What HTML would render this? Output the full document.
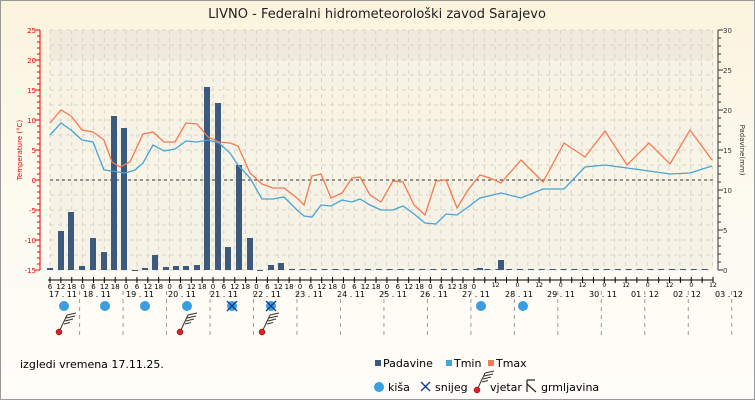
<!DOCTYPE html>
<html><head><meta charset="utf-8"><style>
body{margin:0;background:#fff}
svg{display:block;font-family:"DejaVu Sans","Liberation Sans",sans-serif}
</style></head><body>
<svg id="s" width="755" height="400" viewBox="0 0 755 400">
<defs>
<linearGradient id="bg" x1="0" y1="0" x2="0" y2="1"><stop offset="0" stop-color="#fbf3dc"/><stop offset="0.5" stop-color="#fdfaf0"/><stop offset="1" stop-color="#fefdf9"/></linearGradient>
</defs>
<rect x="0" y="0" width="755" height="400" fill="url(#bg)"/>
<rect x="0.5" y="0.5" width="754" height="399" fill="none" stroke="#999"/>
<text x="377" y="18" font-size="13" text-anchor="middle" fill="#222">LIVNO - Federalni hidrometeorološki zavod Sarajevo</text>
<rect x="50" y="30" width="663" height="240" fill="#f6f2e6"/>
<rect x="50" y="30" width="663" height="30" fill="#efeadb"/>
<rect x="50" y="90" width="663" height="30" fill="#f8f3e2"/>
<rect x="50" y="150" width="663" height="30" fill="#f8f4e6"/>
<g id="grid" stroke="#d8d4c8" stroke-width="1" stroke-dasharray="4,4"></g>
<line x1="50" y1="180" x2="713" y2="180" stroke="#333" stroke-dasharray="3,3"/>
<g id="bars" fill="#3b5a7e"></g>
<polyline id="tmax" fill="none" stroke="#f47a50" stroke-width="1.3"/>
<polyline id="tmin" fill="none" stroke="#48a3d6" stroke-width="1.3"/>
<line x1="40" y1="30" x2="40" y2="270" stroke="#e00"/>
<g id="lt" stroke="#e00"></g>
<g font-size="7" fill="#e00" text-anchor="end">
<text x="36" y="33">25</text><text x="36" y="63">20</text><text x="36" y="93">15</text><text x="36" y="123">10</text><text x="36" y="153">5</text><text x="36" y="183">0</text><text x="36" y="213">-5</text><text x="36" y="243">-10</text><text x="36" y="273">-15</text>
</g>
<text transform="translate(22,150) rotate(-90)" font-size="7" fill="#e00" text-anchor="middle">Temperature (°C)</text>
<line x1="718" y1="30" x2="718" y2="270" stroke="#333"/>
<g id="rt" stroke="#333"></g>
<g font-size="7" fill="#333">
<text x="723" y="33">30</text><text x="723" y="73">25</text><text x="723" y="113">20</text><text x="723" y="153">15</text><text x="723" y="193">10</text><text x="723" y="233">5</text><text x="723" y="273">0</text>
</g>
<text transform="translate(740,150) rotate(90)" font-size="7" fill="#333" text-anchor="middle">Padavine(mm)</text>
<line x1="48" y1="280" x2="713" y2="280" stroke="#000"/>
<g id="xt" stroke="#000"></g>
<g id="xl" font-size="7" fill="#000" text-anchor="middle"></g>
<g font-size="8" fill="#000">
<text x="49" y="297">17 . 11</text><text x="83" y="297">18 . 11</text><text x="126" y="297">19 . 11</text><text x="168" y="297">20 . 11</text><text x="210" y="297">21 . 11</text><text x="253" y="297">22 . 11</text><text x="295" y="297">23 . 11</text><text x="337" y="297">24 . 11</text><text x="379" y="297">25 . 11</text><text x="420" y="297">26 . 11</text><text x="462" y="297">27 . 11</text><text x="505" y="297">28 . 11</text><text x="547" y="297">29 . 11</text><text x="589" y="297">30 . 11</text><text x="631" y="297">01 . 12</text><text x="673" y="297">02 . 12</text><text x="715" y="297">03 . 12</text>
</g>
<g id="dv" stroke="#999" stroke-dasharray="4,4"></g>
<g fill="#3a9ee0">
<circle cx="64" cy="306" r="5"/><circle cx="105" cy="306" r="5"/><circle cx="145" cy="306" r="5"/><circle cx="187" cy="306" r="5"/><circle cx="481" cy="306" r="5"/><circle cx="523" cy="306" r="5"/>
<circle cx="232" cy="306" r="5"/><circle cx="271" cy="306" r="5"/>
</g>
<g stroke="#123a8a" stroke-width="1.3"><path d="M227 301l10 10M237 301l-10 10M266 301l10 10M276 301l-10 10"/></g>
<g id="wind"></g>
<text x="20" y="368" font-size="11" fill="#000">izgledi vremena 17.11.25.</text>
<g font-size="11" fill="#000">
<rect x="375" y="360" width="6" height="6" fill="#3b5a7e"/><text x="383" y="367">Padavine</text>
<rect x="446" y="360" width="6" height="6" fill="#48a3d6"/><text x="454" y="367">Tmin</text>
<rect x="488" y="360" width="6" height="6" fill="#f47a50"/><text x="496" y="367">Tmax</text>
<circle cx="379" cy="387" r="5" fill="#3a9ee0"/><text x="388" y="391">kiša</text>
<path d="M421 382l9 9M430 382l-9 9" stroke="#123a8a" stroke-width="1.3"/><text x="435" y="391">snijeg</text>
<text x="490" y="391">vjetar</text>
<path d="M527 380v12M527 380h8M527 384l9 8" stroke="#222" fill="none" stroke-width="1.2"/><text x="541" y="391">grmljavina</text>
</g>
</svg>
<script>
const NS="http://www.w3.org/2000/svg";
function el(p,t,a){const e=document.createElementNS(NS,t);for(const k in a)e.setAttribute(k,a[k]);document.getElementById(p).appendChild(e);return e;}
for(let y=30;y<=270;y+=15)el("grid","line",{x1:50,y1:y,x2:713,y2:y});
for(let x=50;x<=713;x+=10.86)el("grid","line",{x1:x,y1:30,x2:x,y2:270});
for(let v=0;v<=40;v++){const y=30+v*6;el("lt","line",{x1:v%5==0?35:37,y1:y,x2:40,y2:y});}
for(let v=0;v<=30;v++){const y=30+v*8;el("rt","line",{x1:718,y1:y,x2:v%5==0?723:721,y2:y});}
const ph=663/366;
for(let h=0;h<=366;h+=6){const x=50+h*ph;el("xt","line",{x1:x,y1:277,x2:x,y2:283});
 const hr=(h+6)%24;const day=Math.floor((h+6)/24);
 if(day<=9||(day==10&&hr==0)){const t=el("xl","text",{x:x,y:289});t.textContent=hr;}
 else if(hr==0||hr==12){const t=el("xl","text",{x:x,y:287,"font-size":6});t.textContent=hr;}}
for(let d=1;d<=16;d++){const x=50+(d*24-6)*ph-3;el("dv","line",{x1:x,y1:291,x2:x,y2:335});}
const bars=[[50,268],[61,231],[71,212],[82,266],[93,238],[104,252],[114,116],[124,128],[135,270],[145,268],[155,255],[166,267],[176,266],[186,266],[197,265],[207,87],[218,103],[228,247],[239,165],[250,238],[260,270],[271,265],[281,263],[480,268],[501,260]];
for(let x=292;x<713;x+=10.86){bars.push([x,269]);}
bars.forEach(([x,y])=>el("bars","rect",{x:x-3,y:y,width:6,height:Math.max(270-y,1)}));
document.getElementById("tmax").setAttribute("points","50,123 61,110 71,116 82,130 93,132 104,140 112,162 120,167 130,162 143,134 153,132 164,142 175,142 186,123 197,124 208,137 219,142 230,143 238,146 250,173 262,184 273,188 284,188 297,198 304,205 312,176 321,174 331,198 342,193 352,178 360,177 370,195 381,202 393,181 403,182 414,205 425,215 436,181 446,180 457,208 468,190 480,175 490,178 501,183 521,160 543,182 564,143 585,157 605,131 627,165 649,143 670,164 690,130 712,160");
document.getElementById("tmin").setAttribute("points","50,135 61,123 71,130 82,140 93,142 104,170 112,171 125,173 135,170 143,163 153,145 164,151 175,149 186,141 197,142 208,140 219,143 230,153 238,165 250,178 262,199 273,199 284,197 297,210 304,216 312,217 321,205 331,206 342,200 352,202 360,199 370,205 381,210 393,210 403,206 414,214 425,223 436,224 446,214 457,215 468,207 480,198 501,193 521,198 543,189 564,189 585,167 605,165 627,168 649,171 670,174 690,173 712,166");
[[59,332],[180,332],[262,332],[477,390]].forEach(([x,y])=>{
 el("wind","path",{d:`M${x} ${y}L${x+8} ${y-17}M${x+8} ${y-17}l9 -2M${x+7} ${y-14}l9 -2M${x+6} ${y-11}l8 -2M${x+5} ${y-8}l6 -1.5`,stroke:"#333",fill:"none","stroke-width":1});
 el("wind","circle",{cx:x,cy:y,r:3,fill:"#e02020",stroke:"#600","stroke-width":0.5});});
</script>
</body></html>
